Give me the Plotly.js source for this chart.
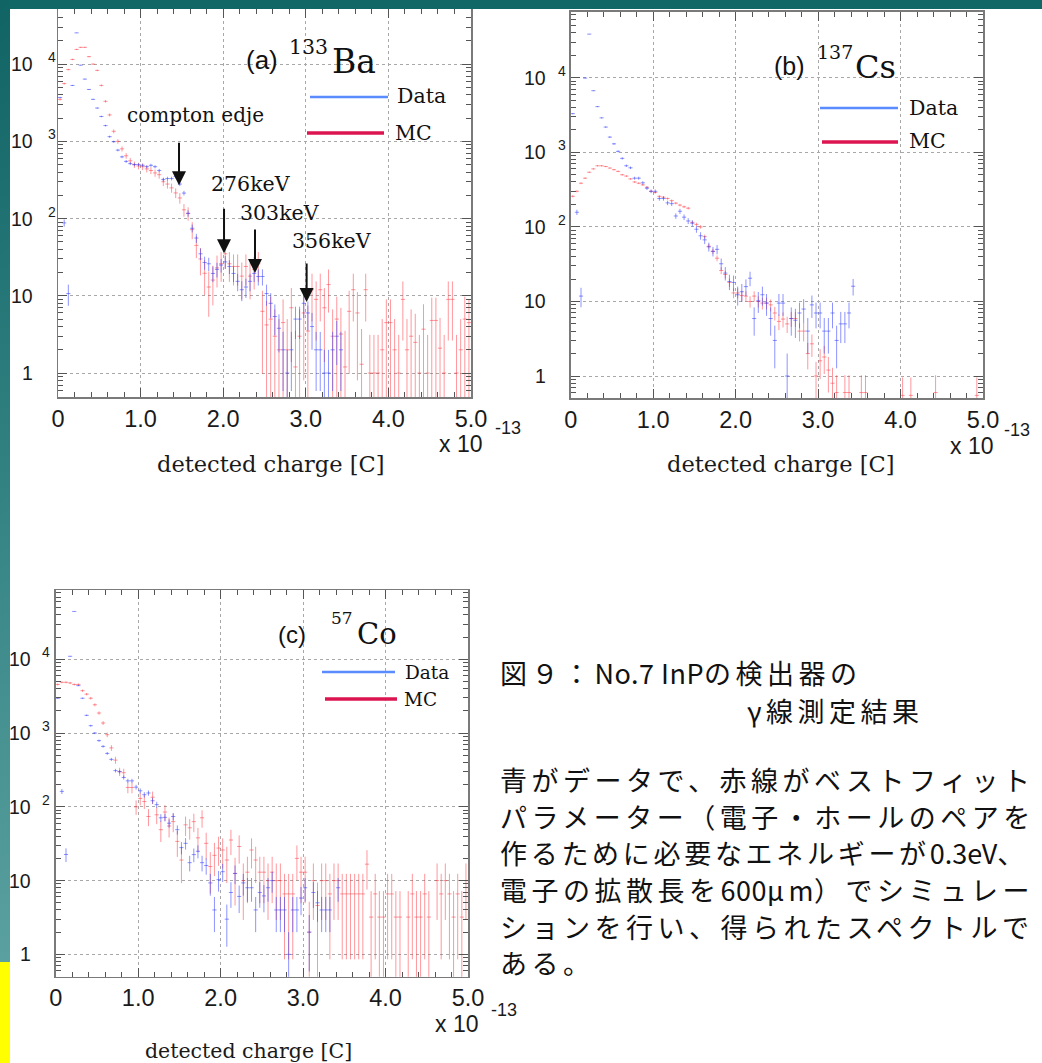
<!DOCTYPE html>
<html><head><meta charset="utf-8">
<script src="https://cdn.plot.ly/plotly-3.0.1.min.js"></script>
<style>
html,body{margin:0;padding:0;background:#fff;width:1042px;height:1063px;overflow:hidden;}
#plot{position:absolute;left:0;top:0;width:1042px;height:1063px;}
#topband{position:absolute;left:0;top:0;width:1042px;height:9px;background:#116666;z-index:5}
#leftband{position:absolute;left:0;top:0;width:10px;height:962px;background:linear-gradient(#116464,#2f7f7f 45%,#5aa0a0);z-index:5}
#yellow{position:absolute;left:0;top:962px;width:10px;height:101px;background:#ffff00;z-index:5}
</style></head><body>
<div id="plot"></div><div id="topband"></div><div id="leftband"></div><div id="yellow"></div>
<script>
// ---------------- DATA ----------------
const binCenters = [
 0.025,0.075,0.125,0.175,0.225,0.275,0.325,0.375,0.425,0.475,
 0.525,0.575,0.625,0.675,0.725,0.775,0.825,0.875,0.925,0.975,
 1.025,1.075,1.125,1.175,1.225,1.275,1.325,1.375,1.425,1.475,
 1.525,1.575,1.625,1.675,1.725,1.775,1.825,1.875,1.925,1.975,
 2.025,2.075,2.125,2.175,2.225,2.275,2.325,2.375,2.425,2.475,
 2.525,2.575,2.625,2.675,2.725,2.775,2.825,2.875,2.925,2.975,
 3.025,3.075,3.125,3.175,3.225,3.275,3.325,3.375,3.425,3.475,
 3.525,3.575,3.625,3.675,3.725,3.775,3.825,3.875,3.925,3.975,
 4.025,4.075,4.125,4.175,4.225,4.275,4.325,4.375,4.425,4.475,
 4.525,4.575,4.625,4.675,4.725,4.775,4.825,4.875,4.925,4.975];

// (a) 133Ba
const baData = [
 3700,88,10.7,5300,25400,9700,6400,4700,3500,2700,
 2100,1600,1150,990,770,630,550,515,500,500,
 490,470,490,470,420,320,330,330,350,280,
 214,117,75,56,35,27,26,19.5,22,25,
 27.5,24,19.5,15.4,12,13,15.4,19.5,17.8,17.8,
 10.7,8,5.4,3.8,2,1,2,5,5,8,
 6,4,2,2,1,1,2,3,2,null,
 null,null,null,null,null,null,null,null,null,null,
 null,null,null,null,null,null,null,null,null,null,
 null,null,null,null,null,null,null,null,null,null];
const baMC = [
 3500,5600,8500,11500,15500,16500,16500,12500,10000,8300,
 5300,3300,2200,1350,1000,800,650,560,500,480,
 470,440,420,390,370,300,280,250,215,185,
 130,117,72,45,30,19.6,13,16,23,26,
 35,26,24,24,18,24,18,22,26,6.3,
 4.2,5,3,2,4.5,2,7,1.2,3,6,
 3.5,12,9,12,7,14,3,5,3.2,1.2,
 6.3,12,6,1.3,12,1,1,1,2,4.5,
 4.5,2,1,9,2,3,2.5,1,3.7,1,
 4.8,4.8,2.1,1,9,9,1,2,5,4.5];

// (b) 137Cs
const csData = [
 3300,157,11.8,9900,38500,6700,4100,2900,2180,1600,
 1300,1030,830,660,620,450,450,390,330,300,
 300,240,240,210,205,140,162,135,120,112,
 93,76,67,54,47,50,32,24,18.5,18,
 12.3,13.5,15.8,20.5,5.9,10.2,12.3,9.5,5.9,3,
 9.5,9.5,1,5.9,5.6,7,7.9,4,9,7,
 7,4,4,7,3,5,5,7,16,null,
 null,null,null,null,null,null,null,null,null,null,
 null,null,null,null,null,null,null,null,null,null,
 null,null,null,null,null,null,null,null,null,null];
const csMC = [
 257,300,385,450,540,600,660,660,645,615,
 585,555,500,480,440,400,385,366,340,300,
 290,257,250,240,225,208,196,186,178,115,
 108,100,74,55,47,38,26,23,18,13,
 13,12,11.8,10,11.8,10,9.5,9.5,9,7,
 5.4,5.8,5,5.9,5.9,4,4,2,2.7,1,
 1.6,1.8,1.2,0.8,0.6,null,0.6,0.6,null,null,
 0.6,0.6,null,null,null,null,null,null,null,null,
 0.55,null,0.55,null,null,null,null,null,0.6,null,
 null,null,null,null,null,null,null,null,0.55,null];

// (c) 57Co
const coData = [
 2970,162,22.6,11000,44600,4400,2970,1740,1260,1000,
 790,660,530,440,310,300,250,225,225,185,
 165,146,154,121,107,71,72,60,74,49,
 28,32,17.5,22.5,25,17.5,16,9.3,4,10.3,
 13.2,3,6.9,12.5,6.1,9.3,8,8,4,6.9,
 6.2,8,10,4,4,4,1,4,4,5.8,
 8,2,6.9,5,4,4,4,null,8,null,
 null,null,null,null,null,null,null,null,null,null,
 null,null,null,null,null,null,null,null,null,null,
 null,null,null,null,null,null,null,null,null,null];
const coMC = [
 4560,4880,4880,4780,4560,4560,3760,3370,2970,2420,
 1870,1370,950,630,430,300,290,183,183,100,
 130,118,74,135,78,49,85,55,63,34,
 19,57,52,63,38,71,32,15.5,22,27.6,
 26,19,35.5,12.5,29,10,13,26,19,13,
 13,10,13,10,10,6.6,6.6,6.6,20,13,
 13,2,10,4.6,10,10,6.6,10,10,6.6,
 6.6,6.6,6.6,6.6,6.6,16.7,3.2,6.6,3.2,3.2,
 6.6,6.6,3.2,3.2,null,3.2,6.6,3.2,3.2,6.6,
 3.2,null,10,6.6,10,6.6,3.2,6.6,3.2,10];

// MC histograms are weighted: error = sqrt(weight * content)
const mcWeightA = 4.5, mcWeightB = 0.3, mcWeightC = 5;

const xTickVals = [0,1,2,3,4,5];
const xTickText = ['0','1.0','2.0','3.0','4.0','5.0'];
const yDecades = [0,1,2,3,4];
const yBaseText = ['1','10','10','10','10'];
const yExpText = ['','','2','3','4'];

const panelNames = ['(a)','(b)','(c)'];
const isotopeMass = ['133','137','57'];
const isotopeSym = ['Ba','Cs','Co'];
const peakLabels = ['compton edje','276keV','303keV','356keV'];
const peakX = [1.465, 2.01, 2.385, 3.01];
const peakTipY = [270, 35.7, 19.7, 8.3];

// ---------------- LAYOUT ----------------
const W=1042, H=1063;
const PX = x => x/W, PY = y => 1 - y/H;

const BLUE = 'rgba(50,60,255,0.55)';
const RED = 'rgba(255,50,60,0.5)';
const SANS = 'Liberation Sans, Arial, sans-serif';
const SERIF = 'DejaVu Serif, serif';
const JP = 'Noto Sans CJK JP, sans-serif';

const minorY = [];
for (let k=-1;k<=4;k++) for (let d=2;d<=9;d++) minorY.push(d*Math.pow(10,k));

const P = [
 {xd:[58,471], yd:[9.3,397], yr:[-0.31,4.71], data:baData, mc:baMC, w:mcWeightA,
  ylabR:35, ylabE:46, eshift:7, x10:[437,444], e13:[493,428], atitle:[271,464,22.5],
  t1:[262,60,26], t2:[308,47,20.5], t3:[330,61,33],
  leg:{b:[310,388,97], d:[395,96], r:[307,384,133], m:[393,133], fs:20.5}},
 {xd:[570.7,983], yd:[11.7,398], yr:[-0.295,4.886], data:csData, mc:csMC, w:mcWeightB,
  ylabR:548, ylabE:556, eshift:7, x10:[948,446], e13:[1002,430], atitle:[781,464,22.5],
  t1:[789,66,25], t2:[835,52,19], t3:[853,67,32],
  leg:{b:[820,898,108], d:[907,108], r:[822,898,142], m:[907,141], fs:20.5}},
 {xd:[55.7,468], yd:[590,976.7], yr:[-0.303,4.94], data:coData, mc:coMC, w:mcWeightC,
  ylabR:33.3, ylabE:40, eshift:7, x10:[433,1024], e13:[489,1010], atitle:[248,1051,20.5],
  t1:[292,634,24], t2:[342,618,17], t3:[355,634,29],
  leg:{b:[322,395,672], d:[403,672], r:[325,397,699], m:[402,699], fs:18.5}}
];

const layout = {
  width:W, height:H, margin:{l:0,r:0,t:0,b:0}, autosize:false,
  paper_bgcolor:'#ffffff', plot_bgcolor:'#ffffff', showlegend:false,
  annotations:[], shapes:[]
};
const traces = [];

P.forEach((p,i) => {
  const sfx = i===0 ? '' : String(i+1);
  const xa = 'x'+sfx, ya = 'y'+sfx;
  layout['xaxis'+sfx] = {
    domain:[PX(p.xd[0]),PX(p.xd[1])], anchor:ya, range:[0,5], type:'linear',
    tickmode:'array', tickvals:xTickVals, ticktext:xTickText,
    ticks:'inside', ticklen:9, tickwidth:1, tickcolor:'#555',
    showline:true, linecolor:'#7a7a7a', linewidth:1.5, mirror:'allticks',
    showgrid:true, gridcolor:'#a8a8a8', griddash:'dot', gridwidth:1, zeroline:false,
    tickfont:{family:SANS, size:23.5, color:'#1a1a1a'},
    minor:{tickmode:'linear', tick0:0, dtick:0.2, ticks:'inside', ticklen:5, tickcolor:'#555', showgrid:false},
    fixedrange:true
  };
  layout['yaxis'+sfx] = {
    domain:[PY(p.yd[1]),PY(p.yd[0])], anchor:xa, type:'log', range:p.yr,
    tickmode:'array', tickvals:[1,10,100,1000,10000], showticklabels:false,
    ticks:'inside', ticklen:9, tickwidth:1, tickcolor:'#555',
    showline:true, linecolor:'#7a7a7a', linewidth:1.5, mirror:'allticks',
    showgrid:true, gridcolor:'#a8a8a8', griddash:'dot', gridwidth:1, zeroline:false,
    minor:{tickmode:'array', tickvals:minorY, ticks:'inside', ticklen:5, tickcolor:'#555', showgrid:false},
    fixedrange:true
  };
  // MC first, data on top
  traces.push({type:'scatter', mode:'markers', x:binCenters, y:p.mc, xaxis:xa, yaxis:ya,
    marker:{size:1,color:'rgba(0,0,0,0)'}, hoverinfo:'skip',
    error_x:{type:'constant', value:0.025, width:0, thickness:1, color:RED},
    error_y:{type:'data', array:p.mc.map(v => v==null?null:Math.sqrt(v*p.w)), width:0, thickness:1, color:RED}});
  traces.push({type:'scatter', mode:'markers', x:binCenters, y:p.data, xaxis:xa, yaxis:ya,
    marker:{size:1,color:'rgba(0,0,0,0)'}, hoverinfo:'skip',
    error_x:{type:'constant', value:0.025, width:0, thickness:1, color:BLUE},
    error_y:{type:'sqrt', width:0, thickness:1, color:BLUE}});

  const A = layout.annotations;
  // y tick labels
  yDecades.forEach((d,j) => {
    A.push({xref:'paper', yref:ya, x:PX(p.ylabR), y:d, xanchor:'right', yanchor:'middle',
      text:yBaseText[j], showarrow:false, font:{family:SANS, size:19.5, color:'#1a1a1a'}});
    if (yExpText[j]) A.push({xref:'paper', yref:ya, x:PX(p.ylabE), y:d, xanchor:'left', yanchor:'middle',
      yshift:p.eshift, text:yExpText[j], showarrow:false, font:{family:SANS, size:14, color:'#1a1a1a'}});
  });
  // x 10^-13
  A.push({xref:'paper', yref:'paper', x:PX(p.x10[0]), y:PY(p.x10[1]), xanchor:'left', yanchor:'middle',
    text:'x 10', showarrow:false, font:{family:SANS, size:23, color:'#1a1a1a'}});
  A.push({xref:'paper', yref:'paper', x:PX(p.e13[0]), y:PY(p.e13[1]), xanchor:'left', yanchor:'middle',
    text:'-13', showarrow:false, font:{family:SANS, size:18, color:'#1a1a1a'}});
  // axis title
  A.push({xref:'paper', yref:'paper', x:PX(p.atitle[0]), y:PY(p.atitle[1]), xanchor:'center', yanchor:'middle',
    text:'detected charge [C]', showarrow:false, font:{family:SERIF, size:p.atitle[2], color:'#1a1a1a'}});
  // panel title
  A.push({xref:'paper', yref:'paper', x:PX(p.t1[0]), y:PY(p.t1[1]), xanchor:'center', yanchor:'middle',
    text:panelNames[i], showarrow:false, font:{family:SANS, size:p.t1[2], color:'#111'}});
  A.push({xref:'paper', yref:'paper', x:PX(p.t2[0]), y:PY(p.t2[1]), xanchor:'center', yanchor:'middle',
    text:isotopeMass[i], showarrow:false, font:{family:SERIF, size:p.t2[2], color:'#111'}});
  A.push({xref:'paper', yref:'paper', x:PX(p.t3[0]), y:PY(p.t3[1]), xanchor:'left', yanchor:'middle',
    text:isotopeSym[i], showarrow:false, font:{family:SERIF, size:p.t3[2], color:'#111'}});
  // legend
  const L = p.leg;
  layout.shapes.push({type:'line', xref:'paper', yref:'paper', x0:PX(L.b[0]), x1:PX(L.b[1]), y0:PY(L.b[2]), y1:PY(L.b[2]),
    line:{color:'#5a8cff', width:2.5}});
  layout.shapes.push({type:'line', xref:'paper', yref:'paper', x0:PX(L.r[0]), x1:PX(L.r[1]), y0:PY(L.r[2]), y1:PY(L.r[2]),
    line:{color:'#dc1450', width:3.5}});
  A.push({xref:'paper', yref:'paper', x:PX(L.d[0]), y:PY(L.d[1]), xanchor:'left', yanchor:'middle',
    text:'Data', showarrow:false, font:{family:SERIF, size:L.fs, color:'#111'}});
  A.push({xref:'paper', yref:'paper', x:PX(L.m[0]), y:PY(L.m[1]), xanchor:'left', yanchor:'middle',
    text:'MC', showarrow:false, font:{family:SERIF, size:L.fs, color:'#111'}});
});

// peak markers in (a)
const peakTextPos = [[195,115],[251,184],[280,213],[332,241]];
const arrowLen = [44,46,45,40];
peakLabels.forEach((t,j) => {
  layout.annotations.push({xref:'paper', yref:'paper', x:PX(peakTextPos[j][0]), y:PY(peakTextPos[j][1]),
    xanchor:'center', yanchor:'middle', text:t, showarrow:false,
    font:{family:SERIF, size:j===0?20:20.5, color:'#111'}});
  layout.annotations.push({xref:'x', yref:'y', x:peakX[j], y:Math.log10(peakTipY[j]), text:'',
    showarrow:true, arrowhead:2, arrowsize:1.4, arrowwidth:2, arrowcolor:'#111', ax:0, ay:-arrowLen[j]});
});

// Japanese caption
const FW = 'letter-spacing:4.5px', FW3 = 'letter-spacing:3.7px', HW = 'letter-spacing:0.5px', HW3 = 'letter-spacing:0px';
const jpLines = [
 [498,672,`<span style="${FW}">図９：</span><span style="${HW}">No.7 InP</span><span style="${FW}">の検出器の</span>`],
 [745,710,`<span style="${FW}">γ線測定結果</span>`],
 [498,779,`<span style="${FW}">青がデータで、赤線がベストフィット</span>`],
 [498,816,`<span style="${FW}">パラメーター（電子・ホールのペアを</span>`],
 [498,852,`<span style="${FW3}">作るために必要なエネルギーが</span><span style="${HW3}">0.3eV</span><span style="letter-spacing:0px">、</span>`],
 [498,889,`<span style="${FW}">電子の拡散長を</span><span style="${HW}">600</span><span style="${FW}">μ</span><span style="${HW}">m</span><span style="${FW}">）でシミュレー</span>`],
 [498,926,`<span style="${FW}">ションを行い、得られたスペクトルで</span>`],
 [498,962,`<span style="${FW}">ある。</span>`]
];
jpLines.forEach(l => layout.annotations.push({xref:'paper', yref:'paper', x:PX(l[0]), y:PY(l[1]),
  xanchor:'left', yanchor:'middle', text:l[2], showarrow:false, font:{family:JP, size:27, color:'#111'}}));

Plotly.newPlot('plot', traces, layout, {staticPlot:true, displayModeBar:false});
</script>
</body></html>
